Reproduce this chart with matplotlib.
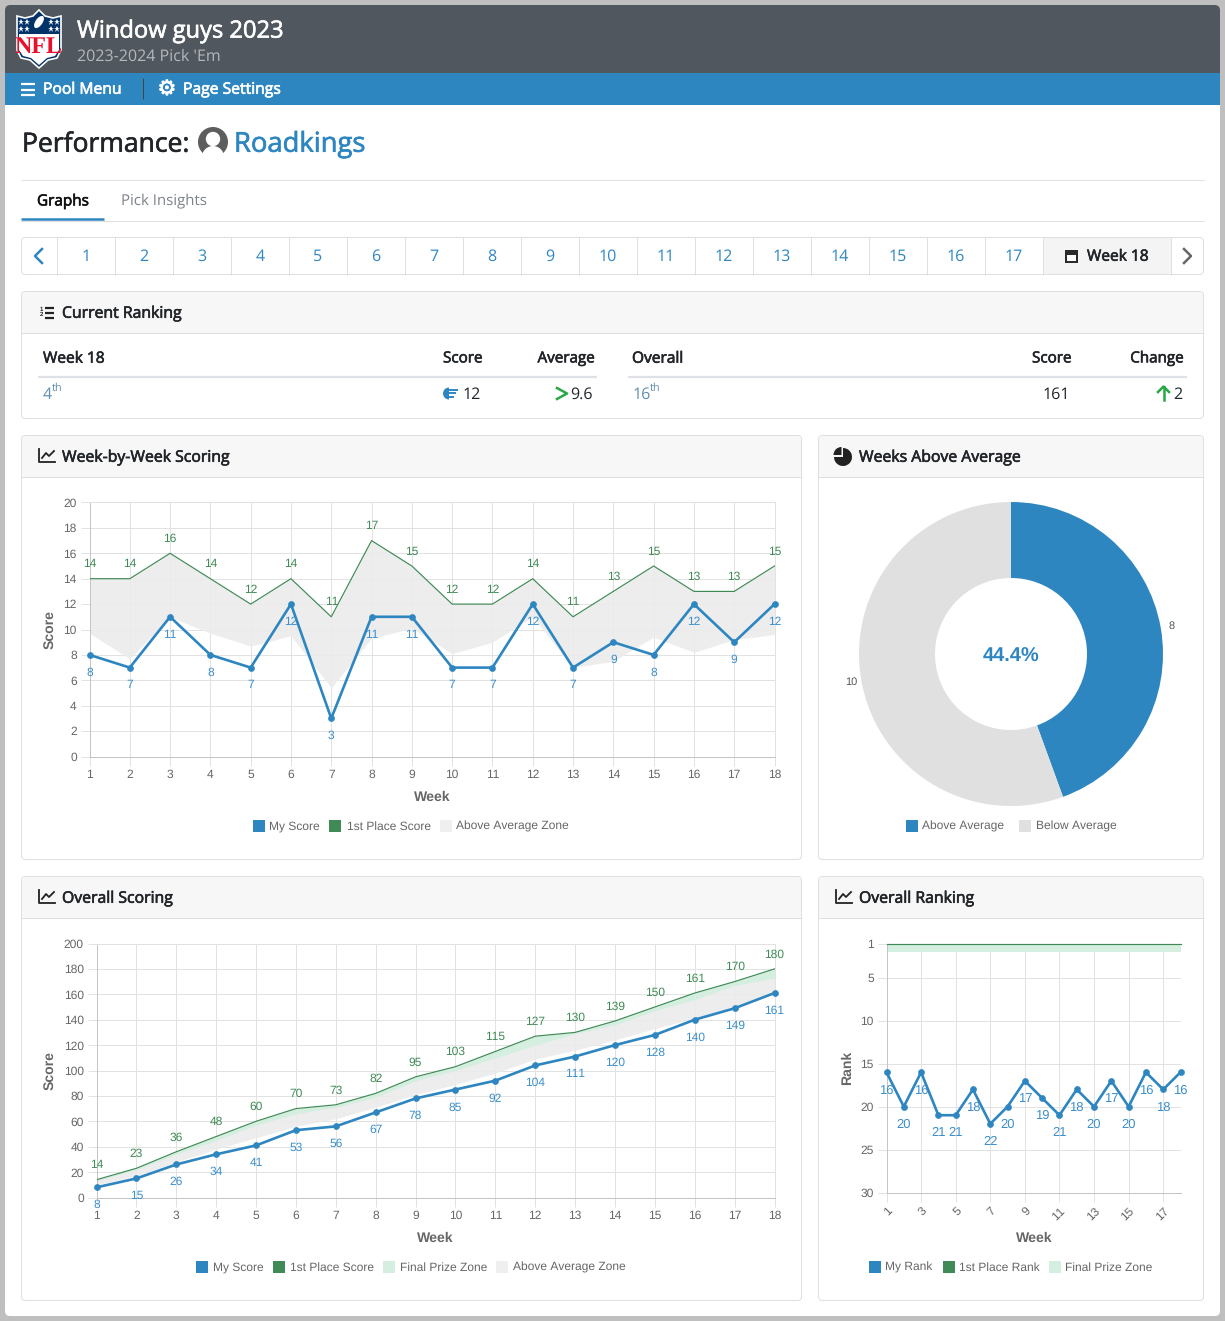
#!/usr/bin/env python3
"""Recreate the pick 'em performance page with its four charts."""
import matplotlib
matplotlib.use('Agg')
import matplotlib.pyplot as plt
import matplotlib.patheffects as pe
from matplotlib.patches import FancyBboxPatch, Rectangle, Circle, Ellipse, Polygon, Wedge

W, H = 1225, 1321

plt.rcParams['text.hinting'] = 'no_hinting'
plt.rcParams['text.hinting_factor'] = 1

# Chart data
weeks = list(range(1, 19))
my_week = [8, 7, 11, 8, 7, 12, 3, 11, 11, 7, 7, 12, 7, 9, 8, 12, 9, 12]
first_week = [14, 14, 16, 14, 12, 14, 11, 17, 15, 12, 12, 14, 11, 13, 15, 13, 13, 15]
avg_week = [9.7, 7.7, 11, 9.7, 8.7, 9.5, 5.4, 9.3, 10.1, 8.1, 9, 11, 7, 7.5, 9.4, 8.2, 9.2, 9.6]

my_total = [8, 15, 26, 34, 41, 53, 56, 67, 78, 85, 92, 104, 111, 120, 128, 140, 149, 161]
first_total = [14, 23, 36, 48, 60, 70, 73, 82, 95, 103, 115, 127, 130, 139, 150, 161, 170, 180]
avg_total = [10, 17, 28, 38, 47, 56, 62, 71, 81, 89, 98, 109, 116, 124, 133, 141, 151, 161]
prize_total = [13, 22, 34, 45, 57, 66, 71, 79, 92, 100, 110, 120, 129, 136, 147, 156, 167, 173]

my_rank = [16, 20, 16, 21, 21, 18, 22, 20, 17, 19, 21, 18, 20, 17, 20, 16, 18, 16]
first_rank = [1] * 18
prize_rank = [2] * 18

pie_labels = ['Above Average', 'Below Average']
pie_values = [8, 10]

page_weeks = [str(i) for i in range(1, 18)]

# Colours
c_blue = '#2e86c1'
c_green = '#3f8a56'
c_zone = '#ececec'
c_prize = '#d4efdf'
c_grid = '#e2e2e2'
c_axis = '#c4c4c4'
c_tick = '#666666'
c_label = '#3b8fcb'
c_green_label = '#3f8a56'
c_dark = '#212529'
c_line = '#dfdfdf'

UI = ['Open Sans', 'DejaVu Sans']
CHART = ['Liberation Sans', 'DejaVu Sans']
PX = 0.72  # one css pixel in points

fig = plt.figure(figsize=(W / 100, H / 100), dpi=100, facecolor='#bfbfbf')
bg = fig.add_axes([0, 0, 1, 1])
bg.set_xlim(0, W)
bg.set_ylim(H, 0)
bg.axis('off')


def ui(x, y, s, size=15, color=c_dark, ha='left', bold=False, **kw):
    # size is in css pixels, bold thickens the regular face a little
    t = bg.text(x, y + size * 0.1, s, fontsize=size * PX, color=color, ha=ha, va='center', family=UI, **kw)
    if bold:
        t.set_path_effects([pe.withStroke(linewidth=0.45, foreground=color)])
    return t


def round_box(x0, y0, x1, y1, fc='white', ec='none', r=4, lw=PX, z=1):
    p = FancyBboxPatch((x0 + r, y0 + r), x1 - x0 - 2 * r, y1 - y0 - 2 * r,
                       boxstyle=f'round,pad={r},rounding_size={r}',
                       fc=fc, ec=ec, lw=lw, zorder=z)
    bg.add_patch(p)
    return p


def hline(x0, x1, y, color=c_line, lw=PX, z=2):
    bg.plot([x0, x1], [y, y], color=color, lw=lw, zorder=z, solid_capstyle='butt')


def vline(x, y0, y1, color=c_line, lw=PX, z=2):
    bg.plot([x, x], [y0, y1], color=color, lw=lw, zorder=z, solid_capstyle='butt')


def card(x0, y0, x1, y1, title, head=42):
    round_box(x0 + .5, y0 + .5, x1 - .5, y1 - .5, fc='white', ec=c_line, r=4)
    round_box(x0 + 1, y0 + 1, x1 - 1, y0 + head, fc='#f7f7f7', ec='none', r=3, z=1.5)
    hline(x0, x1, y0 + head - .5)
    ui(x0 + 41, y0 + head / 2, title, size=15.8, bold=True)


def line_icon(x, y):
    bg.plot([x, x, x + 16], [y - 7, y + 6, y + 6], color='#222', lw=1.3, zorder=3)
    bg.plot([x + 3, x + 7, x + 10, x + 15], [y + 2, y - 3, y, y - 5], color='#222', lw=1.3, zorder=3)


def legend_row(y, items):
    for sx, tx, color, label in items:
        bg.add_patch(Rectangle((sx, y - 6), 12, 12, fc=color, ec='none', zorder=3))
        bg.text(tx, y + 0.5, label, fontsize=8.65, color=c_tick, va='center', family=CHART, zorder=3)


def chart_axes(x0, y0, x1, y1):
    x0, x1, y0, y1 = x0 - .5, x1 - .5, y0 - .5, y1 - .5
    ax = fig.add_axes([x0 / W, 1 - y1 / H, (x1 - x0) / W, (y1 - y0) / H])
    ax.set_facecolor('none')
    for side in ['top', 'right']:
        ax.spines[side].set_color(c_grid)
        ax.spines[side].set_linewidth(PX)
    for side in ['left', 'bottom']:
        ax.spines[side].set_color(c_axis)
        ax.spines[side].set_linewidth(PX)
    ax.grid(True, color=c_grid, lw=PX, zorder=0)
    ax.set_axisbelow(True)
    ax.tick_params(length=6.5, width=PX, color=c_grid, labelcolor=c_tick, labelsize=8.65, pad=2.7)
    for t in ax.get_xticklabels() + ax.get_yticklabels():
        t.set_family(CHART)
    return ax


def axis_titles(ax, xl, xpos, yl, ypos):
    ax.set_xlabel(xl, fontsize=10, fontweight='bold', color=c_tick, family=CHART, va='center')
    ax.set_ylabel(yl, fontsize=10, fontweight='bold', color=c_tick, family=CHART, va='center')
    ax.xaxis.set_label_coords(xpos[0], xpos[1], transform=bg.transData)
    ax.yaxis.set_label_coords(ypos[0], ypos[1], transform=bg.transData)


def point_labels(ax, xs, ys, dy, color, size=8.6):
    for x, y in zip(xs, ys):
        ax.annotate(str(y), (x, y), xytext=(0, dy), textcoords='offset points', ha='center',
                    va='center', fontsize=size, color=color, family=CHART, zorder=6,
                    annotation_clip=False)


def my_line(ax, xs, ys):
    ax.plot(xs, ys, color=c_blue, lw=1.9, marker='o', ms=4.4, mew=0.4, mec=c_blue, zorder=5, clip_on=False)


# ------------------------------------------------------------
# Page frame and header
# ------------------------------------------------------------
round_box(5, 5, 1220, 1316, fc='white', r=5, z=0.5)
round_box(5, 5, 1220, 80, fc='#50575e', r=5, z=0.6)
bg.add_patch(Rectangle((5, 73), 1215, 32, fc=c_blue, ec='none', zorder=0.7))
bg.add_patch(Rectangle((5, 105), 1215, 8, fc='white', ec='none', zorder=0.7))

# NFL shield
shield = [(17, 16), (25, 18), (33, 16), (39, 10), (45, 16), (53, 18), (61, 16), (61, 50), (57, 58),
          (48, 60), (39, 68), (30, 60), (21, 58), (17, 50)]
bg.add_patch(Polygon(shield, closed=True, fc='#013369', ec='white', lw=1.2, zorder=3))
bg.add_patch(Polygon([(19, 34), (59, 34), (59, 50), (55, 56), (47, 58), (39, 65), (31, 58), (23, 56), (19, 50)],
                     closed=True, fc='white', ec='none', zorder=3.1))
bg.text(39, 47, 'NFL', fontsize=17, fontweight='bold', color='#e8112d', ha='center', va='center',
        family=['Liberation Sans Narrow', 'Liberation Serif'], zorder=3.2)
bg.add_patch(Ellipse((39, 22), 7, 14, angle=35, fc='white', ec='none', zorder=3.2))
bg.plot([21, 27, 51, 57, 21, 27, 51, 57], [22, 22, 22, 22, 29, 29, 29, 29], ls='none', marker='*',
        ms=4.5, color='white', mew=0, zorder=3.2)

ui(77, 29, 'Window guys 2023', size=23.7, color='white', bold=True, zorder=3)
ui(77, 55, "2023-2024 Pick 'Em", size=15.5, color='#b5b8bb', zorder=3)

for y in [84, 89.5, 95]:
    hline(21, 35, y, color='white', lw=1.6, z=3)
ui(43, 88, 'Pool Menu', size=15.7, color='white', bold=True, zorder=3)
vline(142.5, 78, 99, color='#444', lw=PX, z=3)
bg.text(167, 89, '\u2699', fontsize=15, color='white', ha='center', va='center', family='DejaVu Sans', zorder=3,
        path_effects=[pe.withStroke(linewidth=0.6, foreground='white')])
ui(183, 88, 'Page Settings', size=15.7, color='white', bold=True, zorder=3)

# Page title
ui(22, 142, 'Performance:', size=26.5, bold=True)
bg.add_patch(Circle((213, 142), 15, fc='#5d5d5d', ec='none', zorder=3))
bg.add_patch(Circle((213, 139), 7.2, fc='white', ec='none', zorder=3.1))
bg.add_patch(Wedge((213, 157), 11, 180, 360, fc='white', ec='none', zorder=3.1))
ui(234, 142, 'Roadkings', size=27.4, color=c_blue, bold=True)

# Tabs
hline(21, 1204, 179.5)
hline(21, 1204, 220.5)
hline(21, 104, 219, color=c_blue, lw=1.8, z=3)
ui(37, 200, 'Graphs', size=15.3, color='#111', bold=True)
ui(121, 200, 'Pick Insights', size=15.4, color='#7b8288')

# Week selector
round_box(21.5, 237.5, 1203.5, 274.5, fc='white', ec=c_line, r=4)
bg.add_patch(Rectangle((1043, 238), 128, 36, fc='#f4f4f4', ec='none', zorder=1.5))
bg.plot([42, 35, 42], [249, 256, 263], color=c_blue, lw=1.8, zorder=3)
bg.plot([1184, 1191, 1184], [249, 256, 263], color='#666', lw=1.8, zorder=3)
for i, lab in enumerate(page_weeks):
    vline(56.5 + 58 * i, 237, 275)
    ui(86 + 58 * i, 255, lab, size=15.5, color=c_blue, ha='center')
vline(1042.5, 237, 275)
vline(1170.5, 237, 275)
bg.add_patch(Rectangle((1065, 250), 13, 13, fc='#2b2b2b', ec='none', zorder=3))
bg.add_patch(Rectangle((1067, 255), 9, 6, fc='white', ec='none', zorder=3.1))
ui(1087, 255, 'Week 18', size=15.5, bold=True)

# ------------------------------------------------------------
# Current ranking table
# ------------------------------------------------------------
card(21, 291, 1204, 419, 'Current Ranking')
bg.text(41, 312, '1\n2', fontsize=4.4, fontweight='bold', color='#222', ha='center', va='center',
        family=CHART, linespacing=0.95, zorder=3)
for y in [308, 313, 318]:
    hline(45, 54, y, color='#222', lw=1.6, z=3)
ui(43, 357, 'Week 18', size=15.5, bold=True)
ui(482, 357, 'Score', size=15.2, ha='right', bold=True)
ui(594, 357, 'Average', size=15.2, ha='right', bold=True)
ui(632, 357, 'Overall', size=15.5, bold=True)
ui(1071, 357, 'Score', size=15.2, ha='right', bold=True)
ui(1183, 357, 'Change', size=15.2, ha='right', bold=True)
hline(38, 597, 376.5, color='#dee2e6', lw=1.6)
hline(628, 1187, 376.5, color='#dee2e6', lw=1.6)

ui(43, 393, '4', size=15.5, color='#5f8fb4')
ui(52, 387, 'th', size=11, color='#5f8fb4')
bg.add_patch(Wedge((449, 393.5), 6, 90, 270, fc=c_blue, ec='none', zorder=3))
for y, x1 in [(389.5, 458), (393, 456), (396.5, 454)]:
    hline(449, x1, y, color=c_blue, lw=1.4, z=3)
ui(481, 393, '12', size=15.5, ha='right')
bg.plot([557, 567, 557], [388, 393.5, 399], color='#28a745', lw=1.8, zorder=3)
ui(593, 393, '9.6', size=15.5, ha='right')
ui(633, 393, '16', size=15.5, color='#5f8fb4')
ui(650, 387, 'th', size=11, color='#5f8fb4')
ui(1070, 393, '161', size=15.5, ha='right')
bg.plot([1163.5, 1163.5], [387, 400], color='#28a745', lw=1.8, zorder=3)
bg.plot([1158, 1163.5, 1169], [392, 386.5, 392], color='#28a745', lw=1.8, zorder=3)
ui(1182, 393, '2', size=15.5, ha='right')

# ------------------------------------------------------------
# Week-by-week scoring
# ------------------------------------------------------------
card(21, 435, 802, 860, 'Week-by-Week Scoring')
line_icon(39, 456)
ax = chart_axes(90, 503, 775, 757)
ax.fill_between(weeks, avg_week, first_week, color=c_zone, alpha=0.9, lw=0, zorder=1)
ax.plot(weeks, first_week, color=c_green, lw=0.85, zorder=3)
my_line(ax, weeks, my_week)
ax.set_xlim(1, 18)
ax.set_ylim(0, 20)
ax.set_xticks(weeks)
ax.set_yticks(range(0, 21, 2))
axis_titles(ax, 'Week', (432.5, 797.5), 'Score', (50, 630))
point_labels(ax, weeks, first_week, 10.4, c_green_label)
point_labels(ax, weeks, my_week, -12.8, c_label)
legend_row(826, [(253, 269, c_blue, 'My Score'), (329, 347, c_green, '1st Place Score'),
                 (440, 456, '#efefef', 'Above Average Zone')])

# ------------------------------------------------------------
# Weeks above average
# ------------------------------------------------------------
card(818, 435, 1204, 860, 'Weeks Above Average')
bg.add_patch(Wedge((843, 457), 9, -90, 180, fc='#222', ec='none', zorder=3))
bg.add_patch(Wedge((841.5, 455), 8, 180, 270, fc='#222', ec='none', zorder=3))
pie_ax = fig.add_axes([859 / W, 1 - 806 / H, 304 / W, 304 / H])
pie_ax.pie(pie_values, colors=[c_blue, '#e0e0e0'], startangle=90, counterclock=False,
           radius=1, labels=pie_values, labeldistance=1.07,
           wedgeprops=dict(width=0.5, lw=0),
           textprops=dict(fontsize=8, color='#555555', family=CHART, ha='center', va='center'))
pie_ax.set_xlim(-1, 1)
pie_ax.set_ylim(-1, 1)
pie_ax.text(0, -0.015, f'{pie_values[0] / sum(pie_values) * 100:.1f}%', ha='center', va='center', fontsize=14.6,
            fontweight='bold', color=c_blue, family=CHART)
legend_row(826, [(906, 922, c_blue, pie_labels[0]), (1019, 1036, '#e0e0e0', pie_labels[1])])

# ------------------------------------------------------------
# Overall scoring
# ------------------------------------------------------------
card(21, 876, 802, 1301, 'Overall Scoring')
line_icon(39, 897)
ax = chart_axes(97, 944, 775, 1198)
ax.fill_between(weeks, avg_total, first_total, color=c_zone, alpha=0.9, lw=0, zorder=1)
ax.fill_between(weeks, prize_total, first_total, color=c_prize, lw=0, zorder=2)
ax.plot(weeks, first_total, color=c_green, lw=0.85, zorder=3)
my_line(ax, weeks, my_total)
ax.set_xlim(1, 18)
ax.set_ylim(0, 200)
ax.set_xticks(weeks)
ax.set_yticks(range(0, 201, 20))
axis_titles(ax, 'Week', (435.5, 1238.5), 'Score', (50, 1071))
point_labels(ax, weeks, first_total, 10.4, c_green_label)
point_labels(ax, weeks, my_total, -12.8, c_label)
legend_row(1267, [(196, 213, c_blue, 'My Score'), (273, 290, c_green, '1st Place Score'),
                  (383, 400, c_prize, 'Final Prize Zone'), (496, 513, '#efefef', 'Above Average Zone')])

# ------------------------------------------------------------
# Overall ranking
# ------------------------------------------------------------
card(818, 876, 1204, 1301, 'Overall Ranking')
line_icon(836, 897)
ax = chart_axes(887, 944, 1181, 1193)
ax.spines['top'].set_visible(False)
ax.spines['right'].set_visible(False)
ax.fill_between(weeks, first_rank, prize_rank, color=c_prize, lw=0, zorder=2)
ax.plot(weeks, first_rank, color=c_green, lw=0.85, zorder=3, clip_on=False)
my_line(ax, weeks, my_rank)
ax.set_xlim(1, 18)
ax.set_ylim(30, 1)
ax.set_xticks(weeks[::2])
ax.set_yticks([1, 5, 10, 15, 20, 25, 30])
ax.tick_params(axis='x', labelrotation=45)
for t in ax.get_xticklabels():
    t.set_ha('right')
    t.set_rotation_mode('anchor')
axis_titles(ax, 'Week', (1034.5, 1238.5), 'Rank', (847, 1068))
point_labels(ax, weeks, my_rank, -12.8, c_label, size=9.2)
legend_row(1267, [(869, 885, c_blue, 'My Rank'), (943, 959, c_green, '1st Place Rank'),
                  (1049, 1065, c_prize, 'Final Prize Zone')])

fig.savefig('out.png', dpi=100, facecolor=fig.get_facecolor())
plt.close()
